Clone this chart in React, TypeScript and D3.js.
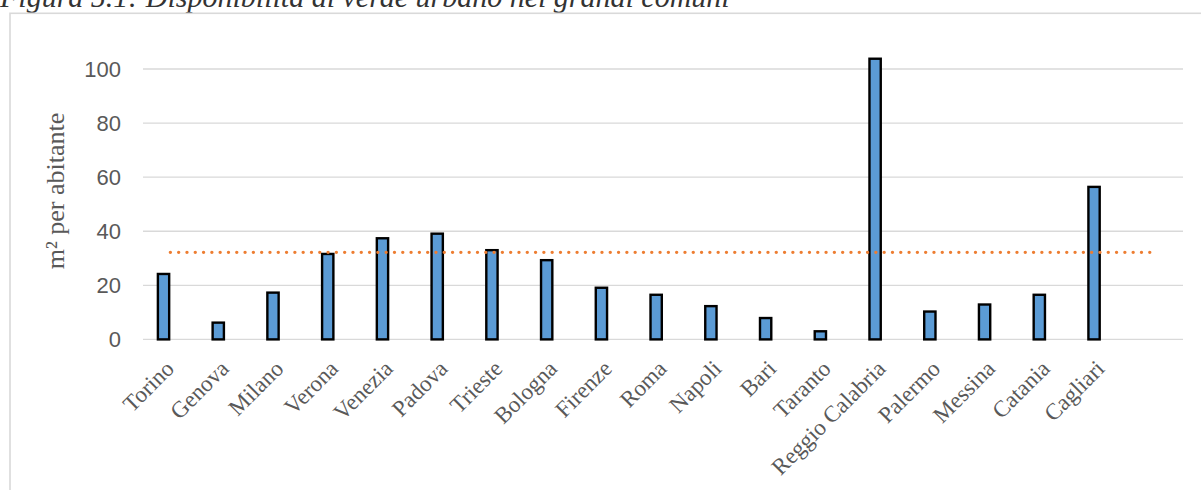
import React from "react";
import * as d3 from "d3";

const cities = [
  "Torino", "Genova", "Milano", "Verona", "Venezia", "Padova", "Trieste", "Bologna",
  "Firenze", "Roma", "Napoli", "Bari", "Taranto", "Reggio Calabria", "Palermo",
  "Messina", "Catania", "Cagliari",
];
const greenPerInhabitant = [
  24.2, 6.2, 17.3, 31.6, 37.4, 39.1, 33.0, 29.3,
  19.1, 16.5, 12.3, 7.9, 3.0, 103.8, 10.3,
  12.9, 16.5, 56.4,
];
const averageValue = 32.2;
const yTicks = [0, 20, 40, 60, 80, 100];
const titleText = "Figura 5.1: Disponibilità di verde urbano nei grandi comuni";
const yTitle = "m² per abitante";

const W = 1201;
const H = 490;
const plotLeft = 143;
const plotRight = 1183;
const yZero = 339.4;
const yHundred = 69;

export default function App() {
  // 18 cities plus an empty trailing category (as in the original chart)
  const categories = [...cities, ""];
  const x = d3.scaleBand<string>().domain(categories).range([plotLeft, plotRight]).paddingInner(0).paddingOuter(0);
  const bw = x.bandwidth();
  const inner = d3.scaleBand<string>().domain(["value", "empty"]).range([0, bw]).paddingInner(0).paddingOuter(1);
  const y = d3.scaleLinear().domain([0, 100]).range([yZero, yHundred]);

  const avgLine = d3
    .line<string>()
    .x((c) => (x(c) as number) + bw / 2)
    .y(() => y(averageValue));

  const stroke = 2.4;
  const gray = "#595959";

  return (
    <svg
      width={W}
      height={H}
      style={{ position: "absolute", left: 0, top: 0, background: "#fff" }}
    >
      <text
        x={0}
        y={7}
        fontFamily="'Liberation Serif', 'Times New Roman', serif"
        fontStyle="italic"
        fontSize={30}
        fill="#333"
      >
        {titleText}
      </text>
      <rect x={10} y={13.3} width={1260} height={600} fill="none" stroke="#d9d9d9" strokeWidth={1.6} />

      {yTicks.map((t) => (
        <g key={t}>
          <line x1={plotLeft} x2={plotRight} y1={y(t)} y2={y(t)} stroke="#d9d9d9" strokeWidth={1.3} />
          <text
            x={121}
            y={y(t)}
            dy="0.35em"
            textAnchor="end"
            fontFamily="'Liberation Sans', Arial, sans-serif"
            fontSize={22}
            fill={gray}
          >
            {t}
          </text>
        </g>
      ))}

      <text
        transform={`translate(64, 191) rotate(-90)`}
        textAnchor="middle"
        fontFamily="'Liberation Serif', 'Times New Roman', serif"
        fontSize={26}
        fill={gray}
      >
        {yTitle}
      </text>

      {cities.map((c, i) => {
        const bx = (x(c) as number) + (inner("value") as number);
        const v = greenPerInhabitant[i];
        return (
          <rect
            key={c}
            x={bx + stroke / 2}
            y={y(v)}
            width={inner.bandwidth() - stroke}
            height={y(0) - y(v)}
            fill="#5b9bd5"
            stroke="#000"
            strokeWidth={stroke}
          />
        );
      })}

      <path
        d={avgLine(categories) as string}
        fill="none"
        stroke="#ed7d31"
        strokeWidth={3.4}
        strokeDasharray="0 8.3"
        strokeLinecap="round"
      />

      {cities.map((c) => {
        const cx = (x(c) as number) + bw / 2 + 5;
        return (
          <text
            key={c}
            transform={`translate(${cx}, 370) rotate(-45)`}
            textAnchor="end"
            fontFamily="'Liberation Serif', 'Times New Roman', serif"
            fontSize={23}
            fill={gray}
          >
            {c}
          </text>
        );
      })}
    </svg>
  );
}
